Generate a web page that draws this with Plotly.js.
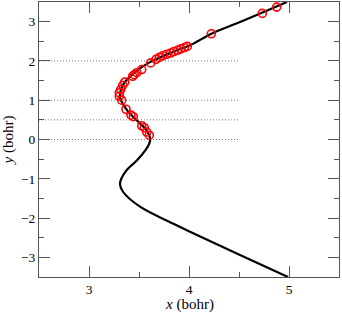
<!DOCTYPE html>
<html>
<head>
<meta charset="utf-8">
<script src="https://cdn.plot.ly/plotly-3.0.1.min.js"></script>
<style>html,body{margin:0;padding:0;background:#fff;}#chart{width:342px;height:313px;}</style>
</head>
<body>
<div id="chart"></div>
<script>
// Black curve
const curveY = [-3.5, -2.94, -2.35, -2.14, -1.71, -1.33, -1.12, -0.80, -0.53, -0.27, -0.12, 0.0, 0.12, 0.27, 0.41, 0.75, 1.08, 1.34, 1.55, 1.81, 1.97, 2.23, 2.40, 2.70, 2.99, 3.5];
const curveX = [4.99, 4.51, 4.01, 3.84, 3.51, 3.34, 3.31, 3.37, 3.48, 3.565, 3.60, 3.612, 3.60, 3.565, 3.51, 3.38, 3.31, 3.33, 3.39, 3.51, 3.61, 3.84, 4.01, 4.23, 4.51, 4.98];

// Red open circles
const ptsX = [3.603, 3.577, 3.553, 3.527, 3.443, 3.42, 3.37, 3.327, 3.303, 3.303, 3.317, 3.337, 3.357, 3.437, 3.453, 3.477, 3.527, 3.617, 3.67, 3.703, 3.737, 3.777, 3.817, 3.85, 3.887, 3.92, 3.953, 3.983, 4.223, 4.733, 4.877];
const ptsY = [0.11, 0.19, 0.30, 0.35, 0.58, 0.62, 0.77, 1.00, 1.10, 1.19, 1.27, 1.38, 1.46, 1.61, 1.65, 1.70, 1.78, 1.95, 2.04, 2.09, 2.13, 2.17, 2.20, 2.24, 2.27, 2.31, 2.34, 2.37, 2.69, 3.21, 3.37];

// Dotted reference levels
const refLevels = [0, 0.5, 1, 2];
const refXRange = [2.5, 4.5];

const xTitle = '<i>x</i> (bohr)';
const yTitle = '<i>y</i> (bohr)';

const traces = [];
refLevels.forEach(function (lv) {
  traces.push({
    x: refXRange, y: [lv, lv], mode: 'lines', hoverinfo: 'skip',
    line: {color: '#777', width: 1, dash: '1px,2px'}, showlegend: false
  });
});
traces.push({
  x: curveX, y: curveY, mode: 'lines',
  line: {color: '#000', width: 2.2, shape: 'spline', smoothing: 1}, showlegend: false
});
traces.push({
  x: ptsX, y: ptsY, mode: 'markers',
  marker: {symbol: 'circle-open', size: 8, color: '#ff0000', line: {width: 1.6, color: '#ff0000'}},
  showlegend: false
});

const axisCommon = {
  showgrid: false, zeroline: false, showline: true, linecolor: '#555', linewidth: 1,
  mirror: 'ticks', ticks: 'inside', ticklen: 11, tickwidth: 1, tickcolor: '#555',
  tickfont: {family: 'Liberation Serif', size: 13.5, color: '#000'},
  minor: {dtick: 0.5, ticks: 'inside', ticklen: 5, tickwidth: 1, tickcolor: '#555', showgrid: false}
};

const layout = {
  width: 342, height: 313,
  margin: {l: 39, r: 3, t: 2, b: 36},
  paper_bgcolor: '#fff', plot_bgcolor: '#fff',
  showlegend: false,
  xaxis: Object.assign({}, axisCommon, {
    range: [2.5, 5.5], dtick: 1, tick0: 0
  }),
  yaxis: Object.assign({}, axisCommon, {
    range: [-3.5, 3.5], dtick: 1, tick0: 0,
    title: {text: yTitle, font: {family: 'Liberation Serif', size: 15, color: '#000'}, standoff: 6}
  }),
  annotations: [{
    text: xTitle, xref: 'paper', yref: 'paper', x: 0.5, y: 0,
    xanchor: 'center', yanchor: 'middle', yshift: -27.5, showarrow: false,
    font: {family: 'Liberation Serif', size: 15, color: '#000'}
  }]
};

Plotly.newPlot('chart', traces, layout, {displayModeBar: false, staticPlot: true});
</script>
</body>
</html>
